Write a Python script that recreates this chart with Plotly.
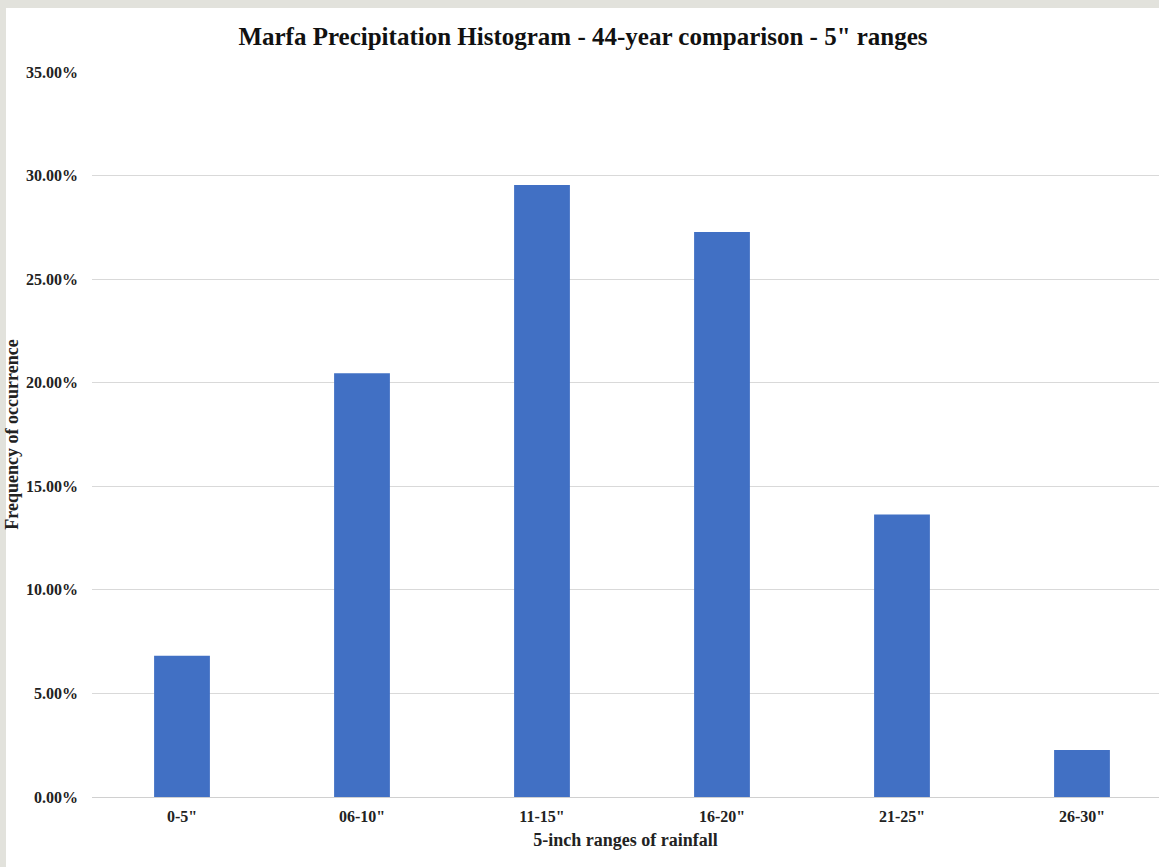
import plotly.graph_objects as go

# Rainfall bins and the share of 44 years that fell in each
ranges = ['0-5"', '06-10"', '11-15"', '16-20"', '21-25"', '26-30"']
year_counts = [3, 9, 13, 12, 6, 1]
total_years = 44
frequency = [c / total_years for c in year_counts]

y_ticks = [0, 0.05, 0.10, 0.15, 0.20, 0.25, 0.30, 0.35]

W, H = 1159, 867
L, R, T, B = 92, 0, 72, 70
plot_w = W - L - R
plot_h = H - T - B

serif = "Liberation Serif, Times New Roman, serif"

fig = go.Figure(
    go.Bar(
        x=list(range(len(ranges))),
        y=frequency,
        marker=dict(color="#4170C4", line=dict(width=0)),
        width=0.31,
        hoverinfo="skip",
    )
)

# white page inset from a light grey frame on the top and left edges
gx1 = (6 - L) / plot_w
gy1 = (H - B - 8) / plot_h

fig.update_layout(
    width=W,
    height=H,
    margin=dict(l=L, r=R, t=T, b=B),
    paper_bgcolor="#E2E2DC",
    plot_bgcolor="white",
    showlegend=False,
    title=dict(
        text="<b>Marfa Precipitation Histogram - 44-year comparison - 5\" ranges</b>",
        x=583 / W,
        xanchor="center",
        xref="container",
        y=1 - 36 / H,
        yanchor="middle",
        yref="container",
        font=dict(family=serif, size=25, color="#111111"),
    ),
    shapes=[
        dict(type="rect", xref="paper", yref="paper",
             x0=gx1, x1=1.0, y0=-B / plot_h, y1=gy1,
             fillcolor="white", line=dict(width=0), layer="below"),
    ],
    xaxis=dict(
        range=[-0.5, -0.5 + plot_w / 180],
        tickvals=list(range(len(ranges))),
        ticktext=[f"<b>{r}</b>" for r in ranges],
        tickfont=dict(family=serif, size=16, color="#222222"),
        showgrid=False,
        zeroline=False,
        showline=False,
        ticks="",
        ticklabelstandoff=8,
        title=dict(
            text="<b>5-inch ranges of rainfall</b>",
            font=dict(family=serif, size=18, color="#222222"),
            standoff=9,
        ),
        fixedrange=True,
    ),
    yaxis=dict(
        range=[0, 0.35],
        tickvals=y_ticks,
        ticktext=[f"<b>{v * 100:.2f}%</b>" for v in y_ticks],
        tickfont=dict(family=serif, size=16, color="#222222"),
        showgrid=True,
        gridcolor="#D9D9D9",
        gridwidth=1,
        zeroline=True,
        zerolinecolor="#D0D0D0",
        zerolinewidth=1,
        showline=False,
        ticks="",
        ticklabelstandoff=13,
        title=dict(
            text="<b>Frequency of occurrence</b>",
            font=dict(family=serif, size=18, color="#222222"),
            standoff=2,
        ),
        fixedrange=True,
    ),
)

fig.write_html("out.html")
